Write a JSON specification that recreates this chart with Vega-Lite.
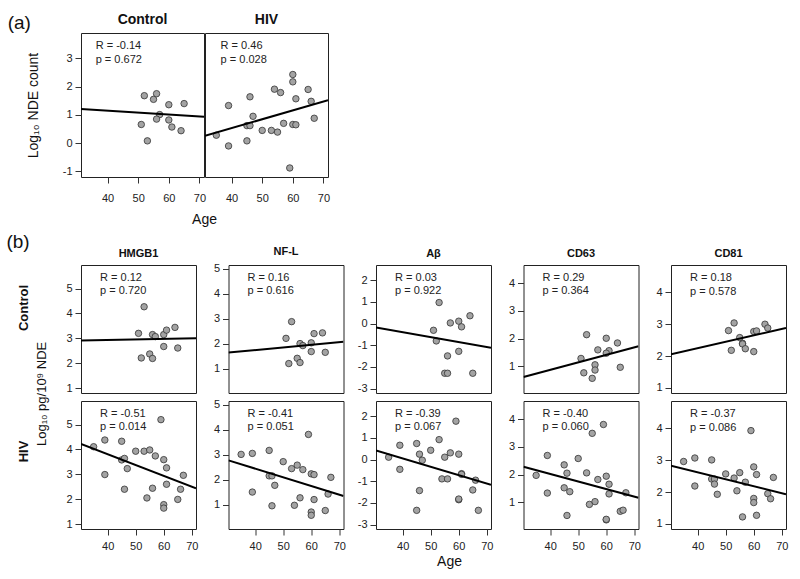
{
"$schema":"https://vega.github.io/schema/vega-lite/v6.json",
"background":"white",
"padding":{"left":6,"top":12,"right":5,"bottom":5},
"datasets":{
"pts":[
{"panel":"a_Control","age":52,"value":1.68},{"panel":"a_Control","age":56,"value":1.75},{"panel":"a_Control","age":55,"value":1.55},{"panel":"a_Control","age":60,"value":1.36},{"panel":"a_Control","age":65,"value":1.40},{"panel":"a_Control","age":51,"value":0.66},{"panel":"a_Control","age":57,"value":1.01},{"panel":"a_Control","age":56,"value":0.85},{"panel":"a_Control","age":60,"value":0.82},{"panel":"a_Control","age":61,"value":0.57},{"panel":"a_Control","age":64,"value":0.44},{"panel":"a_Control","age":53,"value":0.08},
{"panel":"a_HIV","age":35,"value":0.28},{"panel":"a_HIV","age":39,"value":1.33},{"panel":"a_HIV","age":39,"value":-0.10},{"panel":"a_HIV","age":46,"value":1.64},{"panel":"a_HIV","age":45,"value":0.62},{"panel":"a_HIV","age":46,"value":0.62},{"panel":"a_HIV","age":45,"value":0.08},{"panel":"a_HIV","age":47,"value":0.95},{"panel":"a_HIV","age":50,"value":0.45},{"panel":"a_HIV","age":53,"value":0.45},{"panel":"a_HIV","age":55,"value":0.39},{"panel":"a_HIV","age":54,"value":1.91},{"panel":"a_HIV","age":56,"value":1.79},{"panel":"a_HIV","age":57,"value":0.70},{"panel":"a_HIV","age":60,"value":2.43},{"panel":"a_HIV","age":60,"value":2.17},{"panel":"a_HIV","age":60,"value":0.66},{"panel":"a_HIV","age":61,"value":0.65},{"panel":"a_HIV","age":61,"value":1.57},{"panel":"a_HIV","age":59,"value":-0.88},{"panel":"a_HIV","age":65,"value":1.90},{"panel":"a_HIV","age":66,"value":1.48},{"panel":"a_HIV","age":67,"value":0.88},
{"panel":"HMGB1_Control","age":53,"value":4.27},{"panel":"HMGB1_Control","age":51,"value":3.2},{"panel":"HMGB1_Control","age":56,"value":3.15},{"panel":"HMGB1_Control","age":57,"value":3.07},{"panel":"HMGB1_Control","age":60,"value":3.15},{"panel":"HMGB1_Control","age":61,"value":3.33},{"panel":"HMGB1_Control","age":64,"value":3.44},{"panel":"HMGB1_Control","age":60,"value":2.67},{"panel":"HMGB1_Control","age":65,"value":2.61},{"panel":"HMGB1_Control","age":55,"value":2.37},{"panel":"HMGB1_Control","age":52,"value":2.21},{"panel":"HMGB1_Control","age":56,"value":2.19},
{"panel":"NFL_Control","age":53,"value":2.88},{"panel":"NFL_Control","age":51,"value":2.21},{"panel":"NFL_Control","age":61,"value":2.40},{"panel":"NFL_Control","age":64,"value":2.43},{"panel":"NFL_Control","age":56,"value":2.0},{"panel":"NFL_Control","age":57,"value":1.92},{"panel":"NFL_Control","age":60,"value":2.03},{"panel":"NFL_Control","age":60,"value":1.68},{"panel":"NFL_Control","age":65,"value":1.65},{"panel":"NFL_Control","age":55,"value":1.41},{"panel":"NFL_Control","age":52,"value":1.2},{"panel":"NFL_Control","age":56,"value":1.24},
{"panel":"Ab_Control","age":53,"value":0.97},{"panel":"Ab_Control","age":51,"value":-0.31},{"panel":"Ab_Control","age":52,"value":-0.8},{"panel":"Ab_Control","age":57,"value":0.03},{"panel":"Ab_Control","age":60,"value":0.11},{"panel":"Ab_Control","age":61,"value":-0.15},{"panel":"Ab_Control","age":64,"value":0.36},{"panel":"Ab_Control","age":56,"value":-1.49},{"panel":"Ab_Control","age":60,"value":-1.28},{"panel":"Ab_Control","age":55,"value":-2.29},{"panel":"Ab_Control","age":56,"value":-2.29},{"panel":"Ab_Control","age":65,"value":-2.29},
{"panel":"CD63_Control","age":53,"value":2.14},{"panel":"CD63_Control","age":60,"value":2.01},{"panel":"CD63_Control","age":64,"value":1.84},{"panel":"CD63_Control","age":57,"value":1.59},{"panel":"CD63_Control","age":61,"value":1.56},{"panel":"CD63_Control","age":60,"value":1.47},{"panel":"CD63_Control","age":51,"value":1.28},{"panel":"CD63_Control","age":52,"value":0.76},{"panel":"CD63_Control","age":56,"value":1.05},{"panel":"CD63_Control","age":56,"value":0.86},{"panel":"CD63_Control","age":65,"value":0.96},{"panel":"CD63_Control","age":55,"value":0.56},
{"panel":"CD81_Control","age":51,"value":2.80},{"panel":"CD81_Control","age":52,"value":2.18},{"panel":"CD81_Control","age":53,"value":3.04},{"panel":"CD81_Control","age":55,"value":2.58},{"panel":"CD81_Control","age":56,"value":2.40},{"panel":"CD81_Control","age":56,"value":2.38},{"panel":"CD81_Control","age":57,"value":2.23},{"panel":"CD81_Control","age":60,"value":2.77},{"panel":"CD81_Control","age":60,"value":2.14},{"panel":"CD81_Control","age":61,"value":2.79},{"panel":"CD81_Control","age":64,"value":3.00},{"panel":"CD81_Control","age":65,"value":2.88},
{"panel":"HMGB1_HIV","age":35,"value":4.11},{"panel":"HMGB1_HIV","age":39,"value":4.38},{"panel":"HMGB1_HIV","age":39,"value":2.99},{"panel":"HMGB1_HIV","age":45,"value":4.33},{"panel":"HMGB1_HIV","age":45,"value":3.58},{"panel":"HMGB1_HIV","age":46,"value":3.64},{"panel":"HMGB1_HIV","age":46,"value":2.40},{"panel":"HMGB1_HIV","age":47,"value":3.23},{"panel":"HMGB1_HIV","age":50,"value":3.93},{"panel":"HMGB1_HIV","age":53,"value":3.93},{"panel":"HMGB1_HIV","age":55,"value":3.98},{"panel":"HMGB1_HIV","age":54,"value":2.05},{"panel":"HMGB1_HIV","age":56,"value":2.44},{"panel":"HMGB1_HIV","age":57,"value":3.74},{"panel":"HMGB1_HIV","age":59,"value":5.20},{"panel":"HMGB1_HIV","age":60,"value":3.59},{"panel":"HMGB1_HIV","age":61,"value":3.26},{"panel":"HMGB1_HIV","age":61,"value":2.60},{"panel":"HMGB1_HIV","age":60,"value":1.78},{"panel":"HMGB1_HIV","age":60,"value":1.64},{"panel":"HMGB1_HIV","age":65,"value":1.99},{"panel":"HMGB1_HIV","age":66,"value":2.40},{"panel":"HMGB1_HIV","age":67,"value":2.96},
{"panel":"NFL_HIV","age":35,"value":3.01},{"panel":"NFL_HIV","age":39,"value":3.05},{"panel":"NFL_HIV","age":39,"value":1.5},{"panel":"NFL_HIV","age":45,"value":3.17},{"panel":"NFL_HIV","age":45,"value":2.15},{"panel":"NFL_HIV","age":46,"value":2.15},{"panel":"NFL_HIV","age":46,"value":0.95},{"panel":"NFL_HIV","age":47,"value":1.77},{"panel":"NFL_HIV","age":50,"value":2.72},{"panel":"NFL_HIV","age":53,"value":2.44},{"panel":"NFL_HIV","age":55,"value":2.58},{"panel":"NFL_HIV","age":54,"value":0.97},{"panel":"NFL_HIV","age":56,"value":1.27},{"panel":"NFL_HIV","age":57,"value":2.4},{"panel":"NFL_HIV","age":59,"value":3.81},{"panel":"NFL_HIV","age":60,"value":2.23},{"panel":"NFL_HIV","age":61,"value":2.2},{"panel":"NFL_HIV","age":61,"value":1.2},{"panel":"NFL_HIV","age":60,"value":0.7},{"panel":"NFL_HIV","age":60,"value":0.57},{"panel":"NFL_HIV","age":65,"value":0.76},{"panel":"NFL_HIV","age":66,"value":1.42},{"panel":"NFL_HIV","age":67,"value":2.09},
{"panel":"Ab_HIV","age":35,"value":0.11},{"panel":"Ab_HIV","age":39,"value":0.66},{"panel":"Ab_HIV","age":39,"value":-0.45},{"panel":"Ab_HIV","age":45,"value":0.74},{"panel":"Ab_HIV","age":45,"value":-2.34},{"panel":"Ab_HIV","age":46,"value":0.25},{"panel":"Ab_HIV","age":46,"value":-1.43},{"panel":"Ab_HIV","age":47,"value":-0.03},{"panel":"Ab_HIV","age":50,"value":0.43},{"panel":"Ab_HIV","age":53,"value":0.92},{"panel":"Ab_HIV","age":54,"value":-0.89},{"panel":"Ab_HIV","age":55,"value":0.11},{"panel":"Ab_HIV","age":56,"value":-0.89},{"panel":"Ab_HIV","age":57,"value":0.31},{"panel":"Ab_HIV","age":59,"value":1.77},{"panel":"Ab_HIV","age":60,"value":0.25},{"panel":"Ab_HIV","age":60,"value":-1.85},{"panel":"Ab_HIV","age":60,"value":-1.82},{"panel":"Ab_HIV","age":61,"value":-0.65},{"panel":"Ab_HIV","age":61,"value":-0.68},{"panel":"Ab_HIV","age":65,"value":-1.40},{"panel":"Ab_HIV","age":66,"value":-0.95},{"panel":"Ab_HIV","age":67,"value":-2.34},
{"panel":"CD63_HIV","age":35,"value":1.97},{"panel":"CD63_HIV","age":39,"value":2.69},{"panel":"CD63_HIV","age":39,"value":1.33},{"panel":"CD63_HIV","age":45,"value":2.35},{"panel":"CD63_HIV","age":45,"value":1.52},{"panel":"CD63_HIV","age":46,"value":2.05},{"panel":"CD63_HIV","age":46,"value":0.52},{"panel":"CD63_HIV","age":47,"value":1.38},{"panel":"CD63_HIV","age":50,"value":2.58},{"panel":"CD63_HIV","age":53,"value":2.06},{"panel":"CD63_HIV","age":55,"value":3.49},{"panel":"CD63_HIV","age":54,"value":0.92},{"panel":"CD63_HIV","age":56,"value":1.02},{"panel":"CD63_HIV","age":57,"value":1.82},{"panel":"CD63_HIV","age":59,"value":3.81},{"panel":"CD63_HIV","age":60,"value":1.94},{"panel":"CD63_HIV","age":61,"value":1.65},{"panel":"CD63_HIV","age":61,"value":1.30},{"panel":"CD63_HIV","age":60,"value":0.36},{"panel":"CD63_HIV","age":60,"value":0.38},{"panel":"CD63_HIV","age":65,"value":0.67},{"panel":"CD63_HIV","age":66,"value":0.71},{"panel":"CD63_HIV","age":67,"value":1.34},
{"panel":"CD81_HIV","age":35,"value":2.96},{"panel":"CD81_HIV","age":39,"value":3.07},{"panel":"CD81_HIV","age":39,"value":2.19},{"panel":"CD81_HIV","age":45,"value":3.01},{"panel":"CD81_HIV","age":45,"value":2.41},{"panel":"CD81_HIV","age":46,"value":2.41},{"panel":"CD81_HIV","age":46,"value":2.25},{"panel":"CD81_HIV","age":47,"value":1.93},{"panel":"CD81_HIV","age":50,"value":2.57},{"panel":"CD81_HIV","age":53,"value":2.44},{"panel":"CD81_HIV","age":55,"value":2.61},{"panel":"CD81_HIV","age":54,"value":2.04},{"panel":"CD81_HIV","age":56,"value":1.22},{"panel":"CD81_HIV","age":57,"value":2.31},{"panel":"CD81_HIV","age":59,"value":3.93},{"panel":"CD81_HIV","age":60,"value":2.79},{"panel":"CD81_HIV","age":60,"value":1.80},{"panel":"CD81_HIV","age":60,"value":1.67},{"panel":"CD81_HIV","age":61,"value":2.55},{"panel":"CD81_HIV","age":61,"value":1.27},{"panel":"CD81_HIV","age":65,"value":1.95},{"panel":"CD81_HIV","age":66,"value":1.79},{"panel":"CD81_HIV","age":67,"value":2.46}
],
"fits":[
{"panel":"a_Control","a1":31.3,"v1":1.21,"a2":71.5,"v2":0.93},
{"panel":"a_HIV","a1":31.3,"v1":0.26,"a2":71.5,"v2":1.52},
{"panel":"HMGB1_Control","a1":30.5,"v1":2.91,"a2":71.5,"v2":3.00},
{"panel":"NFL_Control","a1":30.5,"v1":1.64,"a2":71.5,"v2":2.07},
{"panel":"Ab_Control","a1":30.5,"v1":-0.18,"a2":71.5,"v2":-1.11},
{"panel":"CD63_Control","a1":30.5,"v1":0.61,"a2":71.5,"v2":1.72},
{"panel":"CD81_Control","a1":30.5,"v1":2.06,"a2":71.5,"v2":2.88},
{"panel":"HMGB1_HIV","a1":30.5,"v1":4.22,"a2":71.5,"v2":2.44},
{"panel":"NFL_HIV","a1":30.5,"v1":2.77,"a2":71.5,"v2":1.34},
{"panel":"Ab_HIV","a1":30.5,"v1":0.42,"a2":71.5,"v2":-1.16},
{"panel":"CD63_HIV","a1":30.5,"v1":2.28,"a2":71.5,"v2":1.16},
{"panel":"CD81_HIV","a1":30.5,"v1":2.83,"a2":71.5,"v2":1.93}
],
"stats":[
{"panel":"a_Control","label":"R = -0.14\np = 0.672"},
{"panel":"a_HIV","label":"R = 0.46\np = 0.028"},
{"panel":"HMGB1_Control","label":"R = 0.12\np = 0.720"},
{"panel":"NFL_Control","label":"R = 0.16\np = 0.616"},
{"panel":"Ab_Control","label":"R = 0.03\np = 0.922"},
{"panel":"CD63_Control","label":"R = 0.29\np = 0.364"},
{"panel":"CD81_Control","label":"R = 0.18\np = 0.578"},
{"panel":"HMGB1_HIV","label":"R = -0.51\np = 0.014"},
{"panel":"NFL_HIV","label":"R = -0.41\np = 0.051"},
{"panel":"Ab_HIV","label":"R = -0.39\np = 0.067"},
{"panel":"CD63_HIV","label":"R = -0.40\np = 0.060"},
{"panel":"CD81_HIV","label":"R = -0.37\np = 0.086"}
]
},
"spacing":6,
"vconcat":[
{
"title":{"text":"(a)","anchor":"start","fontSize":19,"fontWeight":"normal","offset":-20,"dx":-18},
"bounds":"flush","spacing":1,
"hconcat":[
{"width":123,"height":144,"title":{"text":"Control","fontSize":14},
"layer":[
{"data":{"name":"pts"},"transform":[{"filter":"datum.panel==='a_Control'"}],"mark":{"type":"circle","size":42,"fill":"#a3a3a3","opacity":1,"stroke":"#333","strokeWidth":0.8},
"encoding":{"x":{"field":"age","type":"quantitative","scale":{"domain":[31.3,71.5],"nice":false,"zero":false},"axis":{"values":[40,50,60,70],"tickCount":10,"labelExpr":"''+datum.value","labelPadding":9,"title":"Age","titleX":123,"titleFontSize":14,"titlePadding":9}},
"y":{"field":"value","type":"quantitative","scale":{"domain":[-1.2,3.9],"nice":false,"zero":false},"axis":{"values":[-1,0,1,2,3],"tickCount":10,"labelExpr":"''+datum.value","title":"Log₁₀ NDE count","titleFontSize":14,"titlePadding":22}}}},
{"data":{"name":"fits"},"transform":[{"filter":"datum.panel==='a_Control'"}],"mark":{"type":"rule","color":"#000","strokeWidth":2,"clip":true},
"encoding":{"x":{"field":"a1","type":"quantitative"},"x2":{"field":"a2"},"y":{"field":"v1","type":"quantitative"},"y2":{"field":"v2"}}},
{"data":{"name":"stats"},"transform":[{"filter":"datum.panel==='a_Control'"}],"mark":{"type":"text","align":"left","baseline":"top","lineBreak":"\n","fontSize":11,"lineHeight":13.5,"color":"#222"},
"encoding":{"x":{"datum":36.1},"y":{"datum":3.65},"text":{"field":"label"}}}
]},
{"width":123,"height":144,"title":{"text":"HIV","fontSize":14},
"layer":[
{"data":{"name":"pts"},"transform":[{"filter":"datum.panel==='a_HIV'"}],"mark":{"type":"circle","size":42,"fill":"#a3a3a3","opacity":1,"stroke":"#333","strokeWidth":0.8},
"encoding":{"x":{"field":"age","type":"quantitative","scale":{"domain":[31.3,71.5],"nice":false,"zero":false},"axis":{"values":[40,50,60,70],"tickCount":10,"labelExpr":"''+datum.value","labelPadding":9,"title":null}},
"y":{"field":"value","type":"quantitative","scale":{"domain":[-1.2,3.9],"nice":false,"zero":false},"axis":null}}},
{"data":{"name":"fits"},"transform":[{"filter":"datum.panel==='a_HIV'"}],"mark":{"type":"rule","color":"#000","strokeWidth":2,"clip":true},
"encoding":{"x":{"field":"a1","type":"quantitative"},"x2":{"field":"a2"},"y":{"field":"v1","type":"quantitative"},"y2":{"field":"v2"}}},
{"data":{"name":"stats"},"transform":[{"filter":"datum.panel==='a_HIV'"}],"mark":{"type":"text","align":"left","baseline":"top","lineBreak":"\n","fontSize":11,"lineHeight":13.5,"color":"#222"},
"encoding":{"x":{"datum":36.4},"y":{"datum":3.65},"text":{"field":"label"}}}
]}
]
},
{
"title":{"text":"(b)","anchor":"start","fontSize":19,"fontWeight":"normal","offset":-7,"dx":-11},
"vconcat":[
{
"title":{"text":"Log₁₀ pg/10⁹ NDE","orient":"left","anchor":"middle","fontSize":13,"fontWeight":"normal","offset":-32,"dx":13},
"spacing":3,
"vconcat":[
{
"bounds":"flush","spacing":32.5,
"hconcat":[
{"width":115,"height":128,"title":"HMGB1","layer":[
{"data":{"name":"pts"},"transform":[{"filter":"datum.panel==='HMGB1_Control'"}],"mark":{"type":"circle","size":42,"fill":"#a3a3a3","opacity":1,"stroke":"#333","strokeWidth":0.8},
"encoding":{"x":{"field":"age","type":"quantitative","scale":{"domain":[30.5,71.5],"nice":false,"zero":false},"axis":null},
"y":{"field":"value","type":"quantitative","scale":{"domain":[0.8,5.95],"nice":false,"zero":false},"axis":{"values":[1,2,3,4,5],"tickCount":10,"labelExpr":"''+datum.value","title":"Control","titleFontSize":13,"titleFontWeight":"bold","titlePadding":35,"titleY":42.5}}}},
{"data":{"name":"fits"},"transform":[{"filter":"datum.panel==='HMGB1_Control'"}],"mark":{"type":"rule","color":"#000","strokeWidth":2,"clip":true},
"encoding":{"x":{"field":"a1","type":"quantitative"},"x2":{"field":"a2"},"y":{"field":"v1","type":"quantitative"},"y2":{"field":"v2"}}},
{"data":{"name":"stats"},"transform":[{"filter":"datum.panel==='HMGB1_Control'"}],"mark":{"type":"text","align":"left","baseline":"top","lineBreak":"\n","fontSize":11,"lineHeight":13.5,"color":"#222"},
"encoding":{"x":{"datum":37.3},"y":{"datum":5.67},"text":{"field":"label"}}}
]},
{"width":115,"height":128,"title":"NF-L","layer":[
{"data":{"name":"pts"},"transform":[{"filter":"datum.panel==='NFL_Control'"}],"mark":{"type":"circle","size":42,"fill":"#a3a3a3","opacity":1,"stroke":"#333","strokeWidth":0.8},
"encoding":{"x":{"field":"age","type":"quantitative","scale":{"domain":[30.5,71.5],"nice":false,"zero":false},"axis":null},
"y":{"field":"value","type":"quantitative","scale":{"domain":[0.02,5.15],"nice":false,"zero":false},"axis":{"values":[1,2,3,4,5],"tickCount":10,"labelExpr":"''+datum.value","title":null}}}},
{"data":{"name":"fits"},"transform":[{"filter":"datum.panel==='NFL_Control'"}],"mark":{"type":"rule","color":"#000","strokeWidth":2,"clip":true},
"encoding":{"x":{"field":"a1","type":"quantitative"},"x2":{"field":"a2"},"y":{"field":"v1","type":"quantitative"},"y2":{"field":"v2"}}},
{"data":{"name":"stats"},"transform":[{"filter":"datum.panel==='NFL_Control'"}],"mark":{"type":"text","align":"left","baseline":"top","lineBreak":"\n","fontSize":11,"lineHeight":13.5,"color":"#222"},
"encoding":{"x":{"datum":37.3},"y":{"datum":4.87},"text":{"field":"label"}}}
]},
{"width":115,"height":128,"title":"Aβ","layer":[
{"data":{"name":"pts"},"transform":[{"filter":"datum.panel==='Ab_Control'"}],"mark":{"type":"circle","size":42,"fill":"#a3a3a3","opacity":1,"stroke":"#333","strokeWidth":0.8},
"encoding":{"x":{"field":"age","type":"quantitative","scale":{"domain":[30.5,71.5],"nice":false,"zero":false},"axis":null},
"y":{"field":"value","type":"quantitative","scale":{"domain":[-3.2,2.7],"nice":false,"zero":false},"axis":{"values":[-3,-2,-1,0,1,2],"tickCount":10,"labelExpr":"''+datum.value","title":null}}}},
{"data":{"name":"fits"},"transform":[{"filter":"datum.panel==='Ab_Control'"}],"mark":{"type":"rule","color":"#000","strokeWidth":2,"clip":true},
"encoding":{"x":{"field":"a1","type":"quantitative"},"x2":{"field":"a2"},"y":{"field":"v1","type":"quantitative"},"y2":{"field":"v2"}}},
{"data":{"name":"stats"},"transform":[{"filter":"datum.panel==='Ab_Control'"}],"mark":{"type":"text","align":"left","baseline":"top","lineBreak":"\n","fontSize":11,"lineHeight":13.5,"color":"#222"},
"encoding":{"x":{"datum":37.3},"y":{"datum":2.38},"text":{"field":"label"}}}
]},
{"width":115,"height":128,"title":"CD63","layer":[
{"data":{"name":"pts"},"transform":[{"filter":"datum.panel==='CD63_Control'"}],"mark":{"type":"circle","size":42,"fill":"#a3a3a3","opacity":1,"stroke":"#333","strokeWidth":0.8},
"encoding":{"x":{"field":"age","type":"quantitative","scale":{"domain":[30.5,71.5],"nice":false,"zero":false},"axis":null},
"y":{"field":"value","type":"quantitative","scale":{"domain":[0.03,4.66],"nice":false,"zero":false},"axis":{"values":[1,2,3,4],"tickCount":10,"labelExpr":"''+datum.value","title":null}}}},
{"data":{"name":"fits"},"transform":[{"filter":"datum.panel==='CD63_Control'"}],"mark":{"type":"rule","color":"#000","strokeWidth":2,"clip":true},
"encoding":{"x":{"field":"a1","type":"quantitative"},"x2":{"field":"a2"},"y":{"field":"v1","type":"quantitative"},"y2":{"field":"v2"}}},
{"data":{"name":"stats"},"transform":[{"filter":"datum.panel==='CD63_Control'"}],"mark":{"type":"text","align":"left","baseline":"top","lineBreak":"\n","fontSize":11,"lineHeight":13.5,"color":"#222"},
"encoding":{"x":{"datum":37.3},"y":{"datum":4.41},"text":{"field":"label"}}}
]},
{"width":115,"height":128,"title":"CD81","layer":[
{"data":{"name":"pts"},"transform":[{"filter":"datum.panel==='CD81_Control'"}],"mark":{"type":"circle","size":42,"fill":"#a3a3a3","opacity":1,"stroke":"#333","strokeWidth":0.8},
"encoding":{"x":{"field":"age","type":"quantitative","scale":{"domain":[30.5,71.5],"nice":false,"zero":false},"axis":null},
"y":{"field":"value","type":"quantitative","scale":{"domain":[0.84,4.86],"nice":false,"zero":false},"axis":{"values":[1,2,3,4],"tickCount":10,"labelExpr":"''+datum.value","title":null}}}},
{"data":{"name":"fits"},"transform":[{"filter":"datum.panel==='CD81_Control'"}],"mark":{"type":"rule","color":"#000","strokeWidth":2,"clip":true},
"encoding":{"x":{"field":"a1","type":"quantitative"},"x2":{"field":"a2"},"y":{"field":"v1","type":"quantitative"},"y2":{"field":"v2"}}},
{"data":{"name":"stats"},"transform":[{"filter":"datum.panel==='CD81_Control'"}],"mark":{"type":"text","align":"left","baseline":"top","lineBreak":"\n","fontSize":11,"lineHeight":13.5,"color":"#222"},
"encoding":{"x":{"datum":37.3},"y":{"datum":4.64},"text":{"field":"label"}}}
]}
]
},
{
"bounds":"flush","spacing":32.5,
"hconcat":[
{"width":115,"height":128,"layer":[
{"data":{"name":"pts"},"transform":[{"filter":"datum.panel==='HMGB1_HIV'"}],"mark":{"type":"circle","size":42,"fill":"#a3a3a3","opacity":1,"stroke":"#333","strokeWidth":0.8},
"encoding":{"x":{"field":"age","type":"quantitative","scale":{"domain":[30.5,71.5],"nice":false,"zero":false},"axis":{"values":[40,50,60,70],"tickCount":10,"labelExpr":"''+datum.value","labelPadding":5,"title":null}},
"y":{"field":"value","type":"quantitative","scale":{"domain":[0.8,5.95],"nice":false,"zero":false},"axis":{"values":[1,2,3,4,5],"tickCount":10,"labelExpr":"''+datum.value","title":"HIV","titleFontSize":13,"titleFontWeight":"bold","titlePadding":35,"titleY":50}}}},
{"data":{"name":"fits"},"transform":[{"filter":"datum.panel==='HMGB1_HIV'"}],"mark":{"type":"rule","color":"#000","strokeWidth":2,"clip":true},
"encoding":{"x":{"field":"a1","type":"quantitative"},"x2":{"field":"a2"},"y":{"field":"v1","type":"quantitative"},"y2":{"field":"v2"}}},
{"data":{"name":"stats"},"transform":[{"filter":"datum.panel==='HMGB1_HIV'"}],"mark":{"type":"text","align":"left","baseline":"top","lineBreak":"\n","fontSize":11,"lineHeight":13.5,"color":"#222"},
"encoding":{"x":{"datum":37.3},"y":{"datum":5.67},"text":{"field":"label"}}}
]},
{"width":115,"height":128,"layer":[
{"data":{"name":"pts"},"transform":[{"filter":"datum.panel==='NFL_HIV'"}],"mark":{"type":"circle","size":42,"fill":"#a3a3a3","opacity":1,"stroke":"#333","strokeWidth":0.8},
"encoding":{"x":{"field":"age","type":"quantitative","scale":{"domain":[30.5,71.5],"nice":false,"zero":false},"axis":{"values":[40,50,60,70],"tickCount":10,"labelExpr":"''+datum.value","labelPadding":5,"title":null}},
"y":{"field":"value","type":"quantitative","scale":{"domain":[0.02,5.15],"nice":false,"zero":false},"axis":{"values":[1,2,3,4,5],"tickCount":10,"labelExpr":"''+datum.value","title":null}}}},
{"data":{"name":"fits"},"transform":[{"filter":"datum.panel==='NFL_HIV'"}],"mark":{"type":"rule","color":"#000","strokeWidth":2,"clip":true},
"encoding":{"x":{"field":"a1","type":"quantitative"},"x2":{"field":"a2"},"y":{"field":"v1","type":"quantitative"},"y2":{"field":"v2"}}},
{"data":{"name":"stats"},"transform":[{"filter":"datum.panel==='NFL_HIV'"}],"mark":{"type":"text","align":"left","baseline":"top","lineBreak":"\n","fontSize":11,"lineHeight":13.5,"color":"#222"},
"encoding":{"x":{"datum":37.3},"y":{"datum":4.87},"text":{"field":"label"}}}
]},
{"width":115,"height":128,"layer":[
{"data":{"name":"pts"},"transform":[{"filter":"datum.panel==='Ab_HIV'"}],"mark":{"type":"circle","size":42,"fill":"#a3a3a3","opacity":1,"stroke":"#333","strokeWidth":0.8},
"encoding":{"x":{"field":"age","type":"quantitative","scale":{"domain":[30.5,71.5],"nice":false,"zero":false},"axis":{"values":[40,50,60,70],"tickCount":10,"labelExpr":"''+datum.value","labelPadding":5,"title":"Age","titleX":73,"titleFontSize":14,"titlePadding":3}},
"y":{"field":"value","type":"quantitative","scale":{"domain":[-3.2,2.7],"nice":false,"zero":false},"axis":{"values":[-3,-2,-1,0,1,2],"tickCount":10,"labelExpr":"''+datum.value","title":null}}}},
{"data":{"name":"fits"},"transform":[{"filter":"datum.panel==='Ab_HIV'"}],"mark":{"type":"rule","color":"#000","strokeWidth":2,"clip":true},
"encoding":{"x":{"field":"a1","type":"quantitative"},"x2":{"field":"a2"},"y":{"field":"v1","type":"quantitative"},"y2":{"field":"v2"}}},
{"data":{"name":"stats"},"transform":[{"filter":"datum.panel==='Ab_HIV'"}],"mark":{"type":"text","align":"left","baseline":"top","lineBreak":"\n","fontSize":11,"lineHeight":13.5,"color":"#222"},
"encoding":{"x":{"datum":37.3},"y":{"datum":2.38},"text":{"field":"label"}}}
]},
{"width":115,"height":128,"layer":[
{"data":{"name":"pts"},"transform":[{"filter":"datum.panel==='CD63_HIV'"}],"mark":{"type":"circle","size":42,"fill":"#a3a3a3","opacity":1,"stroke":"#333","strokeWidth":0.8},
"encoding":{"x":{"field":"age","type":"quantitative","scale":{"domain":[30.5,71.5],"nice":false,"zero":false},"axis":{"values":[40,50,60,70],"tickCount":10,"labelExpr":"''+datum.value","labelPadding":5,"title":null}},
"y":{"field":"value","type":"quantitative","scale":{"domain":[0.03,4.66],"nice":false,"zero":false},"axis":{"values":[1,2,3,4],"tickCount":10,"labelExpr":"''+datum.value","title":null}}}},
{"data":{"name":"fits"},"transform":[{"filter":"datum.panel==='CD63_HIV'"}],"mark":{"type":"rule","color":"#000","strokeWidth":2,"clip":true},
"encoding":{"x":{"field":"a1","type":"quantitative"},"x2":{"field":"a2"},"y":{"field":"v1","type":"quantitative"},"y2":{"field":"v2"}}},
{"data":{"name":"stats"},"transform":[{"filter":"datum.panel==='CD63_HIV'"}],"mark":{"type":"text","align":"left","baseline":"top","lineBreak":"\n","fontSize":11,"lineHeight":13.5,"color":"#222"},
"encoding":{"x":{"datum":37.3},"y":{"datum":4.41},"text":{"field":"label"}}}
]},
{"width":115,"height":128,"layer":[
{"data":{"name":"pts"},"transform":[{"filter":"datum.panel==='CD81_HIV'"}],"mark":{"type":"circle","size":42,"fill":"#a3a3a3","opacity":1,"stroke":"#333","strokeWidth":0.8},
"encoding":{"x":{"field":"age","type":"quantitative","scale":{"domain":[30.5,71.5],"nice":false,"zero":false},"axis":{"values":[40,50,60,70],"tickCount":10,"labelExpr":"''+datum.value","labelPadding":5,"title":null}},
"y":{"field":"value","type":"quantitative","scale":{"domain":[0.84,4.86],"nice":false,"zero":false},"axis":{"values":[1,2,3,4],"tickCount":10,"labelExpr":"''+datum.value","title":null}}}},
{"data":{"name":"fits"},"transform":[{"filter":"datum.panel==='CD81_HIV'"}],"mark":{"type":"rule","color":"#000","strokeWidth":2,"clip":true},
"encoding":{"x":{"field":"a1","type":"quantitative"},"x2":{"field":"a2"},"y":{"field":"v1","type":"quantitative"},"y2":{"field":"v2"}}},
{"data":{"name":"stats"},"transform":[{"filter":"datum.panel==='CD81_HIV'"}],"mark":{"type":"text","align":"left","baseline":"top","lineBreak":"\n","fontSize":11,"lineHeight":13.5,"color":"#222"},
"encoding":{"x":{"datum":37.3},"y":{"datum":4.64},"text":{"field":"label"}}}
]}
]
}
]
}
]
}
],
"config":{
"font":"Liberation Sans",
"view":{"stroke":"#222","strokeWidth":1},
"axis":{"grid":false,"domain":false,"ticks":true,"tickColor":"#333","tickSize":6,"labelOverlap":false,"labelFont":"Liberation Sans","labelFontSize":11,"labelColor":"#222","titleFont":"Liberation Sans","titleFontWeight":"normal","titleColor":"#111"},
"axisX":{"labelPadding":7},
"axisY":{"labelPadding":3},
"title":{"font":"Liberation Sans","fontSize":11,"fontWeight":"bold","color":"#111","offset":6}
}
}
